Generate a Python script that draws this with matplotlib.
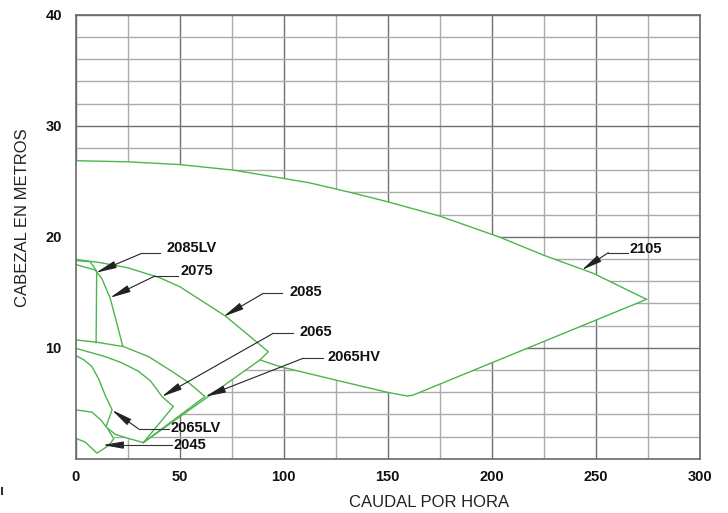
import matplotlib
matplotlib.use('Agg')
import matplotlib.pyplot as plt
from matplotlib.ticker import MultipleLocator
from matplotlib.lines import Line2D

# curvas: caudal (x) y cabezal en metros (y)
m2105_top_x = [0, 25, 50, 75.8, 100, 112.6, 131.9, 150, 175.2, 204, 224.8, 248.9, 274.5]
m2105_top_y = [26.85, 26.75, 26.5, 26.0, 25.25, 24.85, 24.0, 23.15, 21.85, 19.95, 18.35, 16.7, 14.36]
m2105_low_x = [274.5, 162.3, 159.5, 155.1, 149.5, 124.7, 98.2, 88.6]
m2105_low_y = [14.36, 5.74, 5.65, 5.8, 6.0, 7.1, 8.3, 8.9]

m2085_x = [0, 12, 25, 40.5, 50, 60, 72, 82, 92.6, 88.6, 32.5]
m2085_y = [17.96, 17.66, 17.2, 16.3, 15.5, 14.3, 12.85, 11.3, 9.64, 8.9, 1.45]

m2085lv_x = [0, 6.9, 10.1, 9.8]
m2085lv_y = [17.85, 17.75, 16.9, 10.45]

m2075_x = [0, 9.3, 12.5, 16.5, 19.5, 22.6]
m2075_y = [17.5, 17.0, 16.25, 14.5, 12.4, 10.15]

m2065hv_x = [0, 10, 23, 35, 46, 54, 62.2, 32.5]
m2065hv_y = [10.7, 10.5, 10.1, 9.2, 7.9, 6.9, 5.6, 1.45]

m2065_top_x = [0, 14.2, 22, 30, 36, 41.5, 46.9]
m2065_top_y = [9.95, 9.2, 8.65, 7.9, 7.0, 5.6, 4.7]
m2065_bot_x = [32.5, 25, 19, 15, 12, 7.8, 0]
m2065_bot_y = [1.45, 1.85, 2.2, 2.8, 3.5, 4.2, 4.4]

m2065lv_x = [0, 4, 7.8, 11, 14.2, 17.5, 14.6]
m2065lv_y = [9.3, 8.9, 8.3, 7.2, 5.7, 4.4, 2.9]

m2045_x = [0, 4.6, 10.2, 15.9, 18.3, 15.4]
m2045_y = [1.84, 1.5, 0.5, 1.2, 1.8, 2.7]

labels = ['2085LV', '2075', '2085', '2065', '2065HV', '2105', '2065LV', '2045']

# posiciones de las flechas: punta, codo, fin de la linea, texto
callouts = [
    ((9.76, 16.76), (31.7, 18.5), 40.5, (43.75, 19.0)),
    ((16.5, 14.5), (38.1, 16.46), 49.2, (50.5, 16.94)),
    ((71.0, 12.8), (90.2, 14.9), 99.0, (103.0, 15.05)),
    ((41.3, 5.59), (95.0, 11.3), 104.6, (107.8, 11.44)),
    ((62.2, 5.59), (109.4, 9.05), 119.0, (121.3, 9.14)),
    ((243.3, 17.0), (256.1, 18.56), 265.7, (266.5, 18.9)),
    ((17.45, 4.39), (30.3, 2.68), 44.7, (45.5, 2.74)),
    ((13.0, 1.23), (21.4, 1.23), 46.3, (47.1, 1.23)),
]

GREEN = '#4cb54c'
BOLD = ['Liberation Sans', 'DejaVu Sans']

fig = plt.figure(figsize=(7.28, 5.13), dpi=100)
ax = fig.add_axes([0.104, 0.1058, 0.857, 0.8655])
ax.set_xlim(0, 300)
ax.set_ylim(0, 40)

ax.xaxis.set_major_locator(MultipleLocator(50))
ax.xaxis.set_minor_locator(MultipleLocator(25))
ax.yaxis.set_major_locator(MultipleLocator(10))
ax.yaxis.set_minor_locator(MultipleLocator(2))
ax.set_yticks([10, 20, 30, 40])
ax.set_axisbelow(True)
ax.grid(which='major', color='#707070', lw=1.0)
ax.grid(which='minor', color='#ababab', lw=1.0)
ax.tick_params(which='both', length=0)
ax.tick_params(axis='x', pad=8)
ax.tick_params(axis='y', pad=10)
for t in ax.get_xticklabels() + ax.get_yticklabels():
    t.set_family(BOLD)
    t.set_fontweight('bold')
    t.set_fontsize(10.5)
    t.set_color('#111111')
for s in ax.spines.values():
    s.set_color('#6a6a6a')
    s.set_linewidth(1.2)

# zona blanca bajo la envolvente (tapa la cuadricula)
env_x = m2105_top_x + m2105_low_x[1:] + m2085_x[-1:] + m2065_bot_x[1:3] + m2045_x[::-1][1:]
env_y = m2105_top_y + m2105_low_y[1:] + m2085_y[-1:] + m2065_bot_y[1:3] + m2045_y[::-1][1:]
ax.fill(env_x, env_y, color='white', zorder=1, lw=0)

curves = [
    (m2105_top_x, m2105_top_y), (m2105_low_x, m2105_low_y),
    (m2085_x, m2085_y), (m2085lv_x, m2085lv_y), (m2075_x, m2075_y),
    (m2065hv_x, m2065hv_y),
    (m2065_top_x + m2065_bot_x, m2065_top_y + m2065_bot_y),
    (m2065lv_x, m2065lv_y), (m2045_x, m2045_y),
]
for cx, cy in curves:
    ax.plot(cx, cy, color=GREEN, lw=1.0, zorder=2)

for name, (tip, elbow, end, txt) in zip(labels, callouts):
    ax.annotate('', xy=tip, xytext=elbow,
                arrowprops=dict(arrowstyle='-|>,head_length=1.25,head_width=0.22',
                                color='#222222', lw=0.8, shrinkA=0, shrinkB=0,
                                mutation_scale=10), zorder=4)
    ax.plot([elbow[0], end], [elbow[1], elbow[1]], color='#333333', lw=0.8, zorder=4)
    ax.text(txt[0], txt[1], name, family=BOLD, fontweight='bold', fontsize=10.5,
            color='#111111', ha='left', va='center', zorder=5)

ax.set_xlabel('CAUDAL POR HORA', family=['Liberation Sans', 'DejaVu Sans'],
              fontsize=12, color='#222222')
ax.set_ylabel('CABEZAL EN METROS', family=['Liberation Sans', 'DejaVu Sans'],
              fontsize=12, color='#222222')
ax.xaxis.set_label_coords(0.566, -0.081)
ax.yaxis.set_label_coords(-0.073, 0.542)

fig.add_artist(Line2D([1.5 / 728, 1.5 / 728], [25 / 513, 19 / 513],
                      color='#333333', lw=1.5))

fig.savefig('out.png', dpi=100)
